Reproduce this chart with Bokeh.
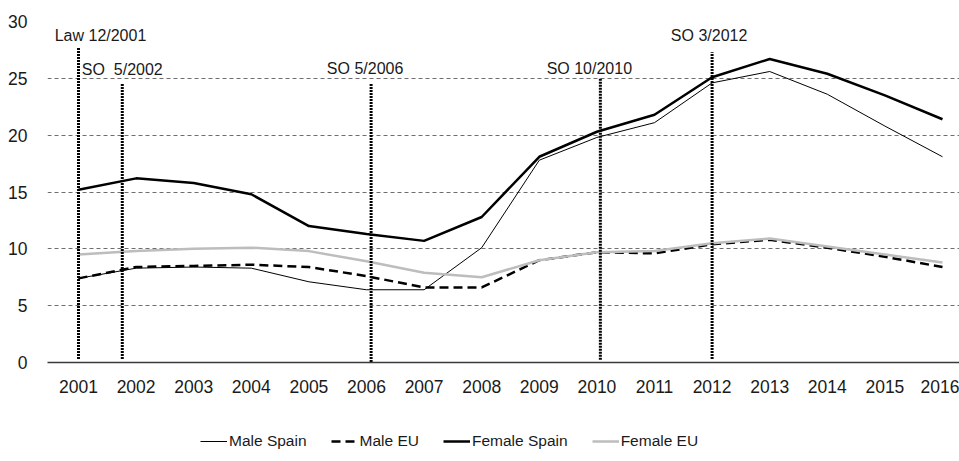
from bokeh.plotting import figure
from bokeh.layouts import column
from bokeh.models import Range1d, FixedTicker, Legend, LegendItem, ColumnDataSource
from bokeh.core.properties import value
from bokeh.embed import file_html
from bokeh.resources import INLINE

# ---- data ----
years = list(range(2001, 2017))
male_spain = [7.4, 8.3, 8.4, 8.3, 7.1, 6.4, 6.4, 10.1, 17.8, 19.8, 21.1, 24.6, 25.6, 23.6, 20.8, 18.1]
male_eu = [7.4, 8.4, 8.5, 8.6, 8.4, 7.6, 6.6, 6.6, 9.0, 9.7, 9.6, 10.4, 10.8, 10.1, 9.3, 8.4]
female_spain = [15.2, 16.2, 15.8, 14.8, 12.0, 11.3, 10.7, 12.8, 18.1, 20.3, 21.8, 25.1, 26.7, 25.4, 23.5, 21.4]
female_eu = [9.5, 9.8, 10.0, 10.1, 9.8, 8.9, 7.9, 7.5, 9.0, 9.7, 9.8, 10.5, 10.9, 10.2, 9.5, 8.8]

series_names = ["Male Spain", "Male EU", "Female Spain", "Female EU"]

event_names = ["Law 12/2001", "SO \u00a05/2002", "SO 5/2006", "SO 10/2010", "SO 3/2012"]
event_x = [2001.0, 2001.76, 2006.08, 2010.06, 2012.0]
event_top = [27.7, 24.6, 24.6, 25.0, 27.3]
event_bottom = [0.3, 0.3, 0.04, 0.25, 0.3]
event_label_y = [28.75, 25.8, 25.85, 25.85, 28.75]

y_ticks = [0, 5, 10, 15, 20, 25, 30]

# ---- styles ----
FONT = "Liberation Sans"
styles = [
    dict(line_color="black", line_width=1),
    dict(line_color="black", line_width=2.5, line_dash="9 5"),
    dict(line_color="black", line_width=2.5),
    dict(line_color="#bdbdbd", line_width=2.5),
]

# ---- layout ----
px_per_year = 57.6
frame_w = 912
x_start = years[0] - 31 / px_per_year
x_end = x_start + frame_w / px_per_year

p = figure(width=959, height=400, output_backend="svg", toolbar_location=None,
           x_range=Range1d(x_start, x_end), y_range=Range1d(0, 30),
           min_border_left=47, min_border_right=0, min_border_top=21, min_border_bottom=38)
p.outline_line_color = None

p.xgrid.visible = False
p.ygrid.ticker = FixedTicker(ticks=y_ticks)
p.ygrid.grid_line_color = "#6e6e6e"
p.ygrid.grid_line_dash = "4 3"
p.ygrid.grid_line_width = 1

p.xaxis.ticker = FixedTicker(ticks=years)
p.xaxis.axis_line_color = "#3a3a3a"
p.xaxis.axis_line_width = 1.3
p.xaxis.major_tick_line_color = None
p.xaxis.minor_tick_line_color = None
p.xaxis.major_label_standoff = 11
p.xaxis.major_label_text_font = FONT
p.xaxis.major_label_text_font_size = "17.5px"
p.xaxis.major_label_text_color = "#1a1a1a"

p.yaxis.ticker = FixedTicker(ticks=y_ticks)
p.yaxis.axis_line_color = None
p.yaxis.major_tick_line_color = None
p.yaxis.minor_tick_line_color = None
p.yaxis.major_label_standoff = 14
p.yaxis.major_label_text_font = FONT
p.yaxis.major_label_text_font_size = "17.5px"
p.yaxis.major_label_text_color = "#1a1a1a"

src = ColumnDataSource(dict(year=years, ms=male_spain, me=male_eu, fs=female_spain, fe=female_eu))
for col, st in zip(["ms", "me", "fs", "fe"], styles):
    p.line("year", col, source=src, **st)

# event markers
ev = ColumnDataSource(dict(x=event_x, top=event_top, bottom=event_bottom,
                           ly=event_label_y, name=event_names,
                           xoff=[22, 0, -6, -11, -3]))
p.segment(x0="x", y0="bottom", x1="x", y1="top", source=ev,
          line_color="black", line_width=3, line_dash="2 1")
p.text(x="x", y="ly", text="name", source=ev, x_offset="xoff",
       text_align="center", text_baseline="middle",
       text_font=value(FONT), text_font_size="16px", text_color="#1a1a1a")

# ---- legend strip (its frame is aligned with the main frame by the column) ----
lg = figure(width=959, height=61, output_backend="svg", toolbar_location=None,
            x_axis_type=None, y_axis_type=None,
            x_range=Range1d(0, 1), y_range=Range1d(0, 1),
            min_border_left=0, min_border_right=0, min_border_top=0, min_border_bottom=0)
lg.outline_line_color = None
items = []
for name, st in zip(series_names, styles):
    # placeholder renderer kept outside the visible range; only its legend swatch shows
    r = lg.line([-5, -4], [-5, -4], **st)
    items.append(LegendItem(label=name, renderers=[r]))

legend = Legend(items=items, orientation="horizontal", location=(153, 10))
legend.padding = 0
legend.margin = 0
legend.spacing = 24
legend.label_standoff = 2
legend.glyph_width = 27
legend.glyph_height = 20
legend.label_height = 20
legend.border_line_color = None
legend.background_fill_alpha = 0
legend.label_text_font = FONT
legend.label_text_font_size = "15.5px"
legend.label_text_color = "#1a1a1a"
lg.add_layout(legend, "center")

layout = column(p, lg, spacing=0)
open("out.html", "w").write(file_html(layout, INLINE))
